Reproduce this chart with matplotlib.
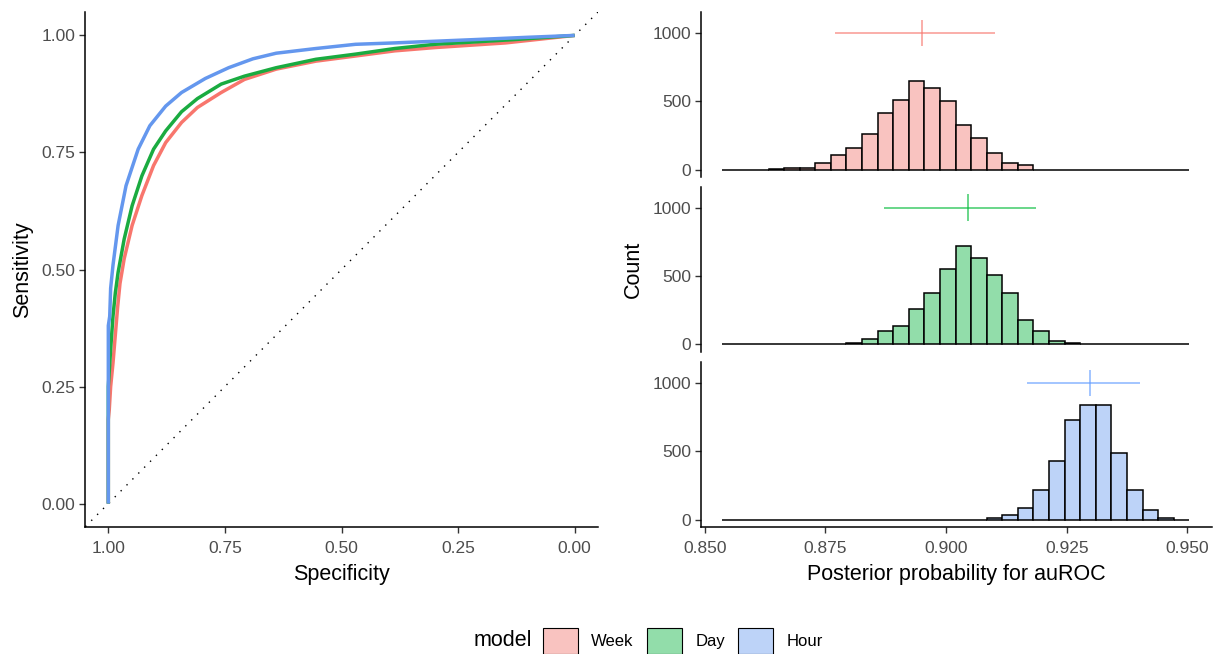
"""ROC curves and posterior auROC histograms for the Week / Day / Hour models."""

import numpy as np
import matplotlib

matplotlib.use("Agg")
import matplotlib.pyplot as plt
from matplotlib.patches import Patch

plt.rcParams["font.family"] = ["Liberation Sans", "DejaVu Sans"]

MODELS = ["Week", "Day", "Hour"]
COLORS = {"Week": "#F8766D", "Day": "#1AAB40", "Hour": "#6497EE"}
FILLS = {"Week": "#F9C3C0", "Day": "#92DDAA", "Hour": "#BDD3F8"}
BAR_COLORS = {"Week": "#F8766D", "Day": "#00BA38", "Hour": "#619CFF"}

# ROC curves (specificity, sensitivity)
WEEK_SPEC = [1.0, 1.0, 0.998, 0.995, 0.99, 0.985, 0.98, 0.975, 0.966, 0.949, 0.928, 0.903,
             0.877, 0.843, 0.809, 0.758, 0.708, 0.64, 0.555, 0.47, 0.386, 0.30, 0.148, 0.0]
WEEK_SENS = [0.0, 0.18, 0.20, 0.25, 0.30, 0.36, 0.42, 0.47, 0.523, 0.594, 0.658, 0.722,
             0.771, 0.814, 0.846, 0.878, 0.906, 0.928, 0.945, 0.956, 0.967, 0.974, 0.984, 1.0]
DAY_SPEC = [1.0, 1.0, 0.995, 0.99, 0.985, 0.979, 0.966, 0.949, 0.928, 0.903, 0.877, 0.843,
            0.809, 0.758, 0.708, 0.64, 0.555, 0.47, 0.386, 0.30, 0.131, 0.0]
DAY_SENS = [0.0, 0.25, 0.33, 0.40, 0.45, 0.494, 0.565, 0.636, 0.70, 0.757, 0.796, 0.837,
            0.865, 0.896, 0.913, 0.931, 0.949, 0.96, 0.972, 0.981, 0.991, 1.0]
HOUR_SPEC = [1.0, 1.0, 0.997, 0.995, 0.99, 0.979, 0.962, 0.936, 0.911, 0.877, 0.843, 0.792,
             0.742, 0.69, 0.64, 0.555, 0.47, 0.386, 0.216, 0.10, 0.0]
HOUR_SENS = [0.0, 0.38, 0.40, 0.46, 0.509, 0.594, 0.679, 0.757, 0.807, 0.849, 0.878, 0.908,
             0.931, 0.95, 0.962, 0.972, 0.981, 0.984, 0.991, 0.996, 1.0]

# Posterior auROC histograms (30 bins)
BIN_START = 0.8535
BIN_WIDTH = 0.00323
WEEK_COUNTS = [0, 0, 0, 5, 8, 10, 51, 110, 159, 259, 417, 512, 646, 600, 500,
               324, 234, 122, 51, 32, 0, 0, 0, 0, 0, 0, 0, 0, 0, 0]
DAY_COUNTS = [0, 0, 0, 0, 0, 0, 0, 6, 10, 37, 97, 134, 260, 376, 550,
              723, 631, 512, 374, 178, 97, 27, 8, 0, 0, 0, 0, 0, 0, 0]
HOUR_COUNTS = [0, 0, 0, 0, 0, 0, 0, 0, 0, 0, 0, 0, 0, 0, 0,
               0, 0, 8, 32, 84, 218, 431, 733, 837, 837, 488, 220, 69, 10, 0]

# Posterior interval (low, median, high) drawn at count = 1000
WEEK_INTERVAL = [0.8769, 0.8950, 0.9102]
DAY_INTERVAL = [0.8871, 0.9046, 0.9186]
HOUR_INTERVAL = [0.9168, 0.9298, 0.9402]
INTERVAL_Y = 1000

roc = {"Week": (WEEK_SPEC, WEEK_SENS), "Day": (DAY_SPEC, DAY_SENS), "Hour": (HOUR_SPEC, HOUR_SENS)}
counts = {"Week": WEEK_COUNTS, "Day": DAY_COUNTS, "Hour": HOUR_COUNTS}
intervals = {"Week": WEEK_INTERVAL, "Day": DAY_INTERVAL, "Hour": HOUR_INTERVAL}

TICK_COLOR = "#4D4D4D"
W, H = 1217, 654


def style_axis(ax, bottom=True):
    for side in ["top", "right"]:
        ax.spines[side].set_visible(False)
    ax.spines["left"].set_linewidth(1.1)
    ax.spines["bottom"].set_linewidth(1.1)
    if not bottom:
        ax.spines["bottom"].set_visible(False)
        ax.tick_params(axis="x", bottom=False, labelbottom=False)
    ax.tick_params(length=4, width=1, color="#333333", labelcolor=TICK_COLOR, labelsize=12.5)
    ax.tick_params(axis="x", pad=6)
    ax.tick_params(axis="y", pad=3)


def px_axes(fig, x0, y0, x1, y1):
    return fig.add_axes([x0 / W, 1 - y1 / H, (x1 - x0) / W, (y1 - y0) / H])


fig = plt.figure(figsize=(W / 100, H / 100), dpi=100)

# ROC panel
ax = px_axes(fig, 85, 12, 598, 527)
ax.axline((1, 0), (0, 1), color="black", linestyle=(0, (1, 5)), linewidth=1.0)
for m in MODELS:
    spec, sens = roc[m]
    ax.plot(spec, sens, color=COLORS[m], linewidth=2.5, solid_capstyle="butt")
ax.set_xlim(1.05, -0.05)
ax.set_ylim(-0.05, 1.05)
ax.set_xticks([1.0, 0.75, 0.5, 0.25, 0.0])
ax.set_yticks([0.0, 0.25, 0.5, 0.75, 1.0])
ax.xaxis.set_major_formatter(matplotlib.ticker.FormatStrFormatter("%.2f"))
ax.yaxis.set_major_formatter(matplotlib.ticker.FormatStrFormatter("%.2f"))
style_axis(ax)
ax.set_xlabel("Specificity", fontsize=15.5, labelpad=6)
ax.set_ylabel("Sensitivity", fontsize=15.5, labelpad=6)

# Posterior histograms
edges = BIN_START + BIN_WIDTH * np.arange(len(WEEK_COUNTS) + 1)
panel_rows = [(12, 177), (187, 352), (362, 527)]
for i, (m, (top, bot)) in enumerate(zip(MODELS, panel_rows)):
    hx = px_axes(fig, 701, top, 1212, bot)
    hx.bar(edges[:-1], counts[m], width=BIN_WIDTH, align="edge",
           facecolor=FILLS[m], edgecolor="black", linewidth=1.1)
    lo, med, hi = intervals[m]
    hx.hlines(INTERVAL_Y, lo, hi, color=BAR_COLORS[m], linewidth=1.1, alpha=0.75)
    hx.vlines(med, INTERVAL_Y - 95, INTERVAL_Y + 100, color=BAR_COLORS[m], linewidth=1.1, alpha=0.75)
    hx.set_xlim(0.8492, 0.9551)
    hx.set_ylim(-55, 1155)
    hx.set_yticks([0, 500, 1000])
    hx.set_xticks([0.850, 0.875, 0.900, 0.925, 0.950])
    hx.xaxis.set_major_formatter(matplotlib.ticker.FormatStrFormatter("%.3f"))
    style_axis(hx, bottom=(i == 2))
    if i == 1:
        hx.set_ylabel("Count", fontsize=15.5, labelpad=6)
    if i == 2:
        hx.set_xlabel("Posterior probability for auROC", fontsize=15.5, labelpad=6)

# Legend
fig.text(532 / W, 1 - 640 / H, "model", fontsize=15.5, ha="right", va="center")
handles = [Patch(facecolor=FILLS[m], edgecolor="black", linewidth=0.8, label=m) for m in MODELS]
fig.legend(handles=handles, ncol=3, loc="center left", bbox_to_anchor=(543 / W, 1 - 641 / H),
           frameon=False, fontsize=12, handlelength=2.1, handleheight=2.1,
           handletextpad=0.8, columnspacing=0.8, borderpad=0, borderaxespad=0)

fig.savefig("out.png", dpi=100)
plt.close(fig)
